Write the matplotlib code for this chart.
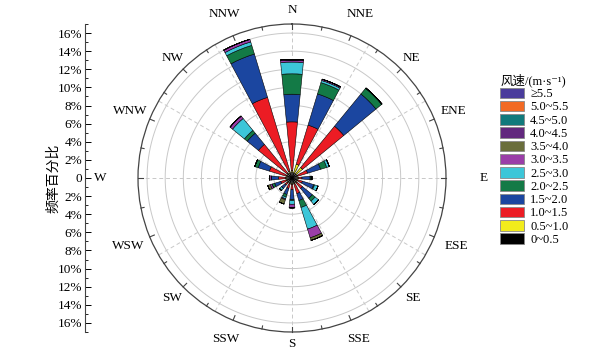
import numpy as np
import matplotlib
matplotlib.use("Agg")
import matplotlib.pyplot as plt
from matplotlib.patches import Patch

plt.rcParams['font.family'] = ['Liberation Serif', 'Noto Sans CJK SC', 'DejaVu Sans']
plt.rcParams['axes.unicode_minus'] = False

# 16 wind directions, clockwise from north
directions = ['N', 'NNE', 'NE', 'ENE', 'E', 'ESE', 'SE', 'SSE',
              'S', 'SSW', 'SW', 'WSW', 'W', 'WNW', 'NW', 'NNW']

# frequency (%) of each speed class per direction
s0_05  = [0.6, 0.6, 0.6, 0.6, 0.6, 0.6, 0.6, 0.6, 0.6, 0.6, 0.6, 0.6, 0.6, 0.6, 0.6, 0.6]
s05_10 = [0.2, 1.0, 0.9, 0.1, 0.1, 0.1, 0.1, 0.1, 0.1, 0.1, 0.1, 0.1, 0.1, 0.1, 0.1, 0.2]
s10_15 = [5.4, 4.5, 5.9, 1.1, 0.4, 0.5, 0.8, 1.1, 0.6, 0.5, 0.3, 0.6, 0.8, 1.9, 4.1, 8.5]
s15_20 = [3.05, 3.6, 4.6, 1.5, 0.9, 1.3, 1.4, 0.8, 1.1, 0.7, 0.5, 0.7, 0.8, 1.3, 1.6, 5.0]
s20_25 = [2.25, 1.3, 0.8, 0.7, 0.1, 0.1, 0.4, 0.8, 0.1, 0.3, 0.0, 0.3, 0.0, 0.4, 0.4, 1.0]
s25_30 = [1.3, 0.25, 0.05, 0.3, 0.1, 0.4, 0.5, 2.5, 0.4, 0.2, 0.3, 0.0, 0.0, 0.0, 1.7, 0.4]
s30_35 = [0.2, 0.15, 0.0, 0.0, 0.0, 0.0, 0.0, 1.0, 0.4, 0.1, 0.0, 0.2, 0.2, 0.0, 0.35, 0.3]
s35_40 = [0.0, 0.0, 0.0, 0.0, 0.0, 0.0, 0.0, 0.3, 0.0, 0.5, 0.0, 0.3, 0.0, 0.0, 0.0, 0.0]
s40_45 = [0.1, 0.0, 0.0, 0.0, 0.0, 0.0, 0.0, 0.0, 0.0, 0.0, 0.0, 0.0, 0.0, 0.0, 0.0, 0.0]
s45_50 = [0.0] * 16
s50_55 = [0.0] * 16
s55_up = [0.0] * 16

classes = [s0_05, s05_10, s10_15, s15_20, s20_25, s25_30,
           s30_35, s35_40, s40_45, s45_50, s50_55, s55_up]
class_labels = ['0~0.5', '0.5~1.0', '1.0~1.5', '1.5~2.0', '2.0~2.5', '2.5~3.0',
                '3.0~3.5', '3.5~4.0', '4.0~4.5', '4.5~5.0', '5.0~5.5', '≥5.5']
colors = ['#000000', '#f2ec1c', '#ec1c24', '#1b46a0', '#137a46', '#3cc6d8',
          '#9a3ea8', '#6a6e3c', '#62287e', '#117a7c', '#f26a24', '#4a3c9c']

# radius (%) used to place the direction names
label_r = [18.5, 19.6, 18.7, 19.3, 21.2, 19.6, 18.8, 19.2,
           18.3, 19.2, 18.8, 19.6, 21.2, 19.3, 18.7, 19.6]

fig = plt.figure(figsize=(5.92, 3.55), dpi=100)
ax = fig.add_axes([138/592, 23/355, 308/592, 308/355], projection='polar')
ax.set_theta_zero_location('N')
ax.set_theta_direction(-1)

theta = np.deg2rad(np.arange(16) * 22.5)
width = np.deg2rad(11.25)
bottom = np.zeros(16)
for vals, col in zip(classes, colors):
    vals = np.array(vals)
    ax.bar(theta, vals, width=width, bottom=bottom, color=col,
           edgecolor='black', linewidth=0.4, zorder=3)
    bottom = bottom + vals

ax.set_ylim(0, 17)
ax.set_yticks(np.arange(2, 17, 2))
ax.set_yticklabels([])
ax.set_xticks(np.deg2rad(np.arange(0, 360, 30)))
ax.set_xticklabels([])
ax.grid(False)
for r in np.arange(2, 17, 2):
    ax.plot(np.linspace(0, 2*np.pi, 361), [r]*361, color='#c8c8c8', lw=0.7, zorder=1)
for a in np.arange(0, 360, 30):
    ax.plot([np.deg2rad(a)]*2, [0, 17], color='#c8c8c8', lw=0.7, ls=(0, (4, 3)), zorder=1)
ax.spines['polar'].set_color('#444444')
ax.spines['polar'].set_linewidth(0.9)

# ticks on the outer circle
for k in range(32):
    a = np.deg2rad(k * 11.25)
    ln = 0.55 if k % 2 == 0 else 0.35
    ax.plot([a, a], [17 - ln, 17], color='#444444', lw=0.8, zorder=4, clip_on=False)

for a, name, r in zip(theta, directions, label_r):
    ax.text(a, r, name, ha='center', va='center', fontsize=9.5, clip_on=False)

# left frequency axis
ax2 = fig.add_axes([85/592, 23/355, 0.001, 308/355])
ax2.set_ylim(-17, 17)
for s in ['top', 'right', 'bottom']:
    ax2.spines[s].set_visible(False)
ax2.spines['left'].set_color('#444444')
ax2.set_xticks([])
yt = np.arange(-16, 17, 2)
ax2.set_yticks(yt)
ax2.set_yticklabels(['0' if v == 0 else '%d%%' % abs(v) for v in yt], fontsize=9.5)
ax2.set_yticks(np.arange(-17, 18, 1), minor=True)
ax2.tick_params(axis='y', which='major', direction='in', length=4, width=0.7, pad=2)
ax2.tick_params(axis='y', which='minor', direction='in', length=2, width=0.6)
ax2.set_ylabel('频率百分比', fontsize=10, labelpad=-2, family=['Noto Sans CJK SC'])

handles = [Patch(facecolor=c, edgecolor='#888888', linewidth=0.6) for c in colors][::-1]
leg = fig.legend(handles, class_labels[::-1], loc='upper left',
                 bbox_to_anchor=(489/592, 1 - 62/355), frameon=False,
                 fontsize=9, handlelength=1.9, handleheight=0.9,
                 labelspacing=0.06, handletextpad=0.5,
                 title='风速/(m·s⁻¹)', title_fontsize=9)
leg.get_title().set_family(['Liberation Serif', 'Noto Sans CJK SC', 'DejaVu Sans'])
leg._legend_box.align = 'left'

fig.savefig('out.png', dpi=100)
